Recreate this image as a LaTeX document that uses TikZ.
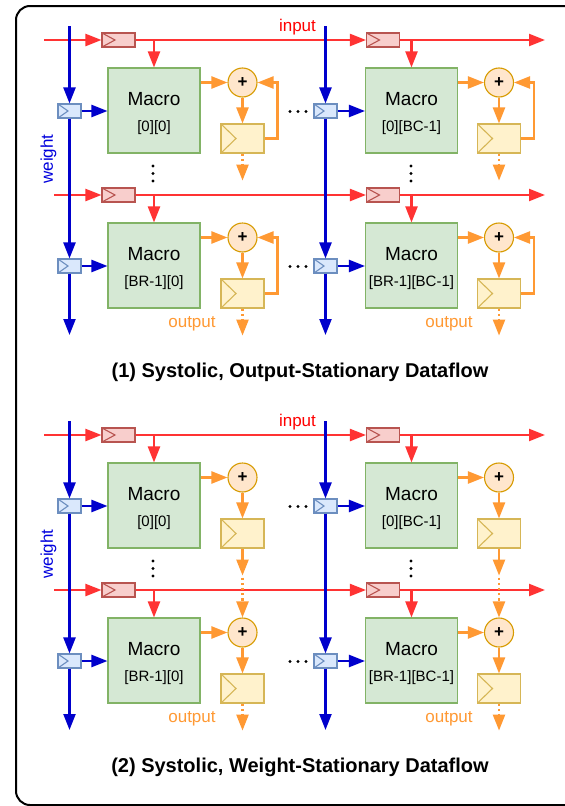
\documentclass[tikz,border=0pt]{standalone}
\usepackage{fontspec}
\setmainfont{Liberation Sans}
\usetikzlibrary{arrows.meta,calc}
\definecolor{lnred}{HTML}{FF3333}
\definecolor{lnblue}{HTML}{0000CC}
\definecolor{lnorange}{HTML}{FF9933}
\definecolor{redfill}{HTML}{F8CECC}
\definecolor{redborder}{HTML}{B85450}
\definecolor{bluefill}{HTML}{DAE8FC}
\definecolor{blueborder}{HTML}{6C8EBF}
\definecolor{greenfill}{HTML}{D5E8D4}
\definecolor{greenborder}{HTML}{82B366}
\definecolor{addfill}{HTML}{FFE6CC}
\definecolor{addborder}{HTML}{D79B00}
\definecolor{accfill}{HTML}{FFF2CC}
\definecolor{accborder}{HTML}{D6B656}
\definecolor{txtred}{HTML}{FF0000}
\definecolor{txtblue}{HTML}{0000DD}
\tikzset{
  tip/.tip={Triangle[length=16pt,width=12pt]},
  redln/.style={draw=lnred,line width=2.2pt,-tip},
  blueln/.style={draw=lnblue,line width=2.3pt,-tip},
  orangeln/.style={draw=lnorange,line width=2.3pt,-tip},
  dotln/.style={orangeln,dash pattern=on 2.2pt off 3pt},
  chev/.style 2 args={path picture={\draw[#1,line width=1.1pt]
     (path picture bounding box.north west) -- ([xshift=#2]path picture bounding box.west)
     -- (path picture bounding box.south west);}},
  redreg/.style={rectangle,draw=redborder,fill=redfill,line width=1.1pt,
     minimum width=33pt,minimum height=14pt,inner sep=0pt,chev={redborder}{13pt}},
  bluereg/.style={rectangle,draw=blueborder,fill=bluefill,line width=1.1pt,
     minimum width=23pt,minimum height=14pt,inner sep=0pt,chev={blueborder}{10pt}},
  accreg/.style={rectangle,draw=accborder,fill=accfill,line width=1.1pt,
     minimum width=43pt,minimum height=29pt,inner sep=0pt,chev={accborder}{15pt}},
  macro/.style={rectangle,draw=greenborder,fill=greenfill,line width=1.1pt,
     minimum width=92pt,minimum height=85pt,inner sep=0pt},
  adder/.style={circle,draw=addborder,fill=addfill,line width=1.1pt,
     minimum size=29pt,inner sep=0pt,font=\fontsize{17pt}{17pt}\selectfont\bfseries},
  mtxt/.style={inner sep=0pt,font=\fontsize{19pt}{19pt}\selectfont},
  itxt/.style={inner sep=0pt,font=\fontsize{15pt}{15pt}\selectfont},
  lbl/.style={inner sep=0pt,font=\fontsize{17pt}{17pt}\selectfont},
  ttl/.style={inner sep=0pt,font=\fontsize{20pt}{20pt}\selectfont\bfseries},
  dotmark/.style={fill=black},
}
\newcommand\drawpanel[3]{%
\begin{scope}[shift={(0,#1)},name prefix=p#2-]
  \foreach \r/\sx/\la/\lb in {0/44/{[0][0]}/{[0][BC-1]},1/54/{[BR-1][0]}/{[BR-1][BC-1]}}{
    \pgfmathsetmacro\dy{155*\r}
    \node[macro] (ma\r) at (154,110.5+\dy) {};
    \node[macro] (mb\r) at (411.5,110.5+\dy) {};
    \node[mtxt] (mat\r) at (154,99+\dy) {Macro};
    \node[itxt] (mai\r) at (154,127.5+\dy) {\la};
    \node[mtxt] (mbt\r) at (411.5,99+\dy) {Macro};
    \node[itxt] (mbi\r) at (411.5,127.5+\dy) {\lb};
    \node[redreg] (ra\r) at (118.5,40+\dy) {};
    \node[redreg] (rb\r) at (383,40+\dy) {};
    \node[bluereg] (ba\r) at (69.5,111+\dy) {};
    \node[bluereg] (bb\r) at (325.5,111+\dy) {};
    \node[adder] (ca\r) at (242.5,82.5+\dy) {+};
    \node[adder] (cb\r) at (499,82.5+\dy) {+};
    \node[accreg] (aa\r) at (242.5,138.5+\dy) {};
    \node[accreg] (ab\r) at (499,138.5+\dy) {};
    \coordinate (rs\r) at (\sx,40+\dy);
    \coordinate (re\r) at (545,40+\dy);
    % input rows
    \draw[redln] (rs\r) -- (ra\r.west);
    \draw[redln] (ra\r.east) -- (rb\r.west);
    \draw[redln] (rb\r.east) -- (re\r);
    \draw[redln] (ma\r.north |- ra\r.center) -- (ma\r.north);
    \draw[redln] (mb\r.north |- rb\r.center) -- (mb\r.north);
    % weight into macros
    \draw[blueln] (ba\r.east) -- (ba\r.east -| ma\r.west);
    \draw[blueln] (bb\r.east) -- (bb\r.east -| mb\r.west);
    % partial sums
    \draw[orangeln] (ma\r.east |- ca\r.center) -- (ca\r.west);
    \draw[orangeln] (mb\r.east |- cb\r.center) -- (cb\r.west);
    \draw[orangeln] (ca\r.south) -- (aa\r.north);
    \draw[orangeln] (cb\r.south) -- (ab\r.north);
    % horizontal ellipsis
    \foreach \xx in {290,298,306}{\fill[dotmark] (\xx,111.5+\dy) circle (1.7);}
  }
  % weight columns
  \coordinate (bta) at (69.5,26);
  \coordinate (bea) at (69.5,335);
  \coordinate (btb) at (325.5,26);
  \coordinate (beb) at (325.5,335);
  \draw[blueln] (bta) -- (ba0.north);
  \draw[blueln] (ba0.south) -- (ba1.north);
  \draw[blueln] (ba1.south) -- (bea);
  \draw[blueln] (btb) -- (bb0.north);
  \draw[blueln] (bb0.south) -- (bb1.north);
  \draw[blueln] (bb1.south) -- (beb);
  % vertical ellipsis
  \foreach \yy in {166,173.5,181}{
    \fill[dotmark] (153,\yy) circle (1.7);
    \fill[dotmark] (411,\yy) circle (1.7);}
  \ifnum#2=1
    \foreach \r in {0,1}{
      \draw[orangeln] (aa\r.east) -- ++(13,0) |- (ca\r.east);
      \draw[orangeln] (ab\r.east) -- ++(13,0) |- (cb\r.east);
      \draw[dotln] (aa\r.south) -- ++(0,27);
      \draw[dotln] (ab\r.south) -- ++(0,27);
    }
  \else
    \draw[orangeln] (aa0.south) -- ++(0,27) coordinate (xa);
    \draw[orangeln] (ab0.south) -- ++(0,27) coordinate (xb);
    \draw[dotln] ([yshift=-2pt]xa) -- (ca1.north);
    \draw[dotln] ([yshift=-2pt]xb) -- (cb1.north);
    \draw[dotln] (aa1.south) -- ++(0,27);
    \draw[dotln] (ab1.south) -- ++(0,27);
  \fi
  % labels
  \node[lbl,text=txtred,anchor=base] (inl) at (297.5,31) {input};
  \node[lbl,text=txtblue,rotate=90] (wl) at (48.5,159) {weight};
  \node[lbl,text=lnorange,anchor=base] (ola) at (192,327.5) {output};
  \node[lbl,text=lnorange,anchor=base] (olb) at (449,327.5) {output};
  \node[ttl,anchor=base] (ttl) at (300,377.5) {#3};
\end{scope}}
\begin{document}
\begin{tikzpicture}[x=1pt,y=-1pt]
  \clip (0,0) rectangle (565,806);
  \fill[white] (0,0) rectangle (565,806);
  \draw[line width=2pt,rounded corners=14pt] (16,6) rectangle (600,805);
  \drawpanel{0}{1}{(1) Systolic, Output-Stationary Dataflow}
  \drawpanel{395}{2}{(2) Systolic, Weight-Stationary Dataflow}
\end{tikzpicture}
\end{document}
